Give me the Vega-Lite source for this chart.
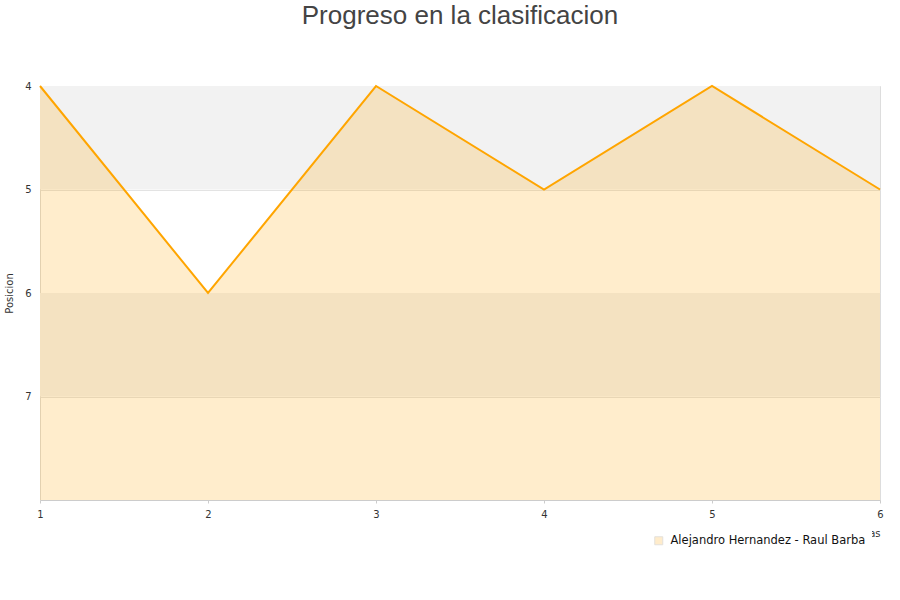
{
  "$schema": "https://vega.github.io/schema/vega-lite/v6.json",
  "width": 840,
  "height": 414,
  "autosize": "none",
  "padding": {"left": 40, "top": 86, "right": 20, "bottom": 100},
  "background": "white",
  "title": {
    "text": "Progreso en la clasificacion",
    "fontSize": 26,
    "font": "Liberation Sans",
    "fontWeight": "normal",
    "color": "#444444",
    "anchor": "middle",
    "offset": 52
  },
  "config": {
    "font": "DejaVu Sans",
    "view": {"stroke": "#dddddd"},
    "legend": {"symbolStrokeColor": "#7a6a50", "symbolStrokeWidth": 1}
  },
  "datasets": {
    "bands": [
      {"y0": 4, "y1": 5},
      {"y0": 6, "y1": 7}
    ],
    "series": [
      {"jornada": 1, "posicion": 4, "pareja": "Alejandro Hernandez - Raul Barba"},
      {"jornada": 2, "posicion": 6, "pareja": "Alejandro Hernandez - Raul Barba"},
      {"jornada": 3, "posicion": 4, "pareja": "Alejandro Hernandez - Raul Barba"},
      {"jornada": 4, "posicion": 5, "pareja": "Alejandro Hernandez - Raul Barba"},
      {"jornada": 5, "posicion": 4, "pareja": "Alejandro Hernandez - Raul Barba"},
      {"jornada": 6, "posicion": 5, "pareja": "Alejandro Hernandez - Raul Barba"}
    ]
  },
  "layer": [
    {
      "data": {"name": "bands"},
      "mark": {"type": "rect", "color": "#f2f2f2"},
      "encoding": {
        "y": {"field": "y0", "type": "quantitative", "scale": {"domain": [4, 8], "reverse": true}},
        "y2": {"field": "y1"}
      }
    },
    {
      "data": {"name": "series"},
      "mark": {"type": "area", "opacity": 0.2, "line": false},
      "encoding": {
        "x": {
          "field": "jornada", "type": "quantitative",
          "scale": {"domain": [1, 6], "nice": false},
          "axis": {
            "values": [1, 2, 3, 4, 5, 6], "format": "d", "grid": false, "labelFlush": false,
            "title": "Jornadas", "titleAnchor": "end", "titleFontSize": 10, "titleFontWeight": "normal",
            "titleColor": "#333333", "titlePadding": 9,
            "labelFontSize": 10, "labelColor": "#333333", "labelPadding": 6,
            "domainColor": "#cccccc", "tickColor": "#cccccc", "tickSize": 3
          }
        },
        "y": {
          "field": "posicion", "type": "quantitative",
          "scale": {"domain": [4, 8], "reverse": true, "nice": false, "zero": false},
          "axis": {
            "values": [4, 5, 6, 7], "format": "d", "title": "Posicion", "titleFontSize": 10, "titleFontWeight": "normal",
            "titleColor": "#333333", "titlePadding": 10,
            "labelFontSize": 10, "labelColor": "#333333", "labelPadding": 9,
            "gridColor": "#e3e3e3", "domain": false, "ticks": false
          }
        },
        "y2": {"datum": 8},
        "color": {
          "field": "pareja", "type": "nominal",
          "scale": {"range": ["#ffa500"]},
          "legend": {
            "title": null, "orient": "none", "legendX": 607, "legendY": 443,
            "fillColor": "white", "padding": 6, "labelLimit": 400, "labelOffset": 6,
            "symbolType": "square", "symbolSize": 64,
            "labelFontSize": 11.5, "labelColor": "#111111",
            "encode": {
              "symbols": {
                "update": {
                  "fill": {"value": "#ffedcc"},
                  "fillOpacity": {"value": 1},
                  "stroke": {"value": "#7a6a50"},
                  "strokeOpacity": {"value": 1},
                  "strokeWidth": {"value": 1.2},
                  "opacity": {"value": 1}
                }
              }
            }
          }
        }
      }
    },
    {
      "data": {"name": "series"},
      "mark": {"type": "line", "color": "#ffa500", "strokeWidth": 2},
      "encoding": {
        "x": {"field": "jornada", "type": "quantitative"},
        "y": {"field": "posicion", "type": "quantitative"}
      }
    }
  ]
}
